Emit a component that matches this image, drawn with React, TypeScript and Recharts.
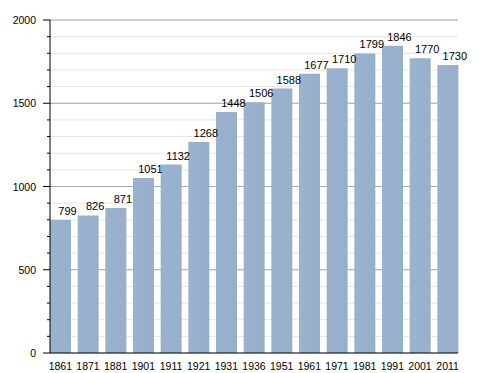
import { BarChart, Bar, XAxis, YAxis, CartesianGrid, LabelList } from 'recharts';

const years = ['1861', '1871', '1881', '1901', '1911', '1921', '1931', '1936', '1951', '1961', '1971', '1981', '1991', '2001', '2011'];
const population = [799, 826, 871, 1051, 1132, 1268, 1448, 1506, 1588, 1677, 1710, 1799, 1846, 1770, 1730];
const yTicks = [0, 100, 200, 300, 400, 500, 600, 700, 800, 900, 1000, 1100, 1200, 1300, 1400, 1500, 1600, 1700, 1800, 1900, 2000];
const majorTicks = [500, 1000, 1500, 2000];

const data = years.map((year, i) => ({ year, value: population[i] }));

const FONT = '"Liberation Sans", Arial, sans-serif';

function YTick(props: any) {
  const { x, y, payload } = props;
  const major = payload.value % 500 === 0;
  return (
    <g>
      <line x1={x - (major ? 7 : 3)} y1={y} x2={x} y2={y} stroke="#000" strokeWidth={1} />
      {major && (
        <text x={x - 14} y={y + 4} textAnchor="end" fontSize={10.5} fontFamily={FONT} fill="#000">
          {payload.value}
        </text>
      )}
    </g>
  );
}

function ValueLabel(props: any) {
  const { x, y, width, value } = props;
  return (
    <text x={x + width / 2 + 7} y={y - 5} textAnchor="middle" fontSize={11} fontFamily={FONT} fill="#000">
      {value}
    </text>
  );
}

export default function App() {
  return (
    <div style={{ position: 'absolute', left: 0, top: 0, background: '#fff' }}>
      <BarChart
        width={488}
        height={373}
        data={data}
        margin={{ top: 20, right: 30, bottom: 0, left: 0 }}
        barCategoryGap={3.5}
      >
        <defs>
          <linearGradient id="barFill" x1="0" y1="0" x2="1" y2="0">
            <stop offset="0%" stopColor="#9ab2cd" />
            <stop offset="100%" stopColor="#96afcb" />
          </linearGradient>
        </defs>
        <CartesianGrid vertical={false} stroke="#e4e4e4" />
        <CartesianGrid vertical={false} horizontalValues={majorTicks} stroke="#a8a8a8" fill="none" />
        <XAxis
          dataKey="year"
          height={20}
          padding={{ left: -3.5, right: -3.5 }}
          axisLine={{ stroke: '#000' }}
          tickLine={false}
          interval={0}
          tickMargin={4}
          tick={{ fontSize: 10.5, fontFamily: FONT, fill: '#000' }}
        />
        <YAxis
          width={50}
          domain={[0, 2000]}
          ticks={yTicks}
          interval={0}
          tickSize={0}
          tickMargin={0}
          axisLine={{ stroke: '#000' }}
          tickLine={false}
          tick={<YTick />}
        />
        <Bar dataKey="value" fill="url(#barFill)" isAnimationActive={false}>
          <LabelList dataKey="value" content={<ValueLabel />} />
        </Bar>
      </BarChart>
    </div>
  );
}
